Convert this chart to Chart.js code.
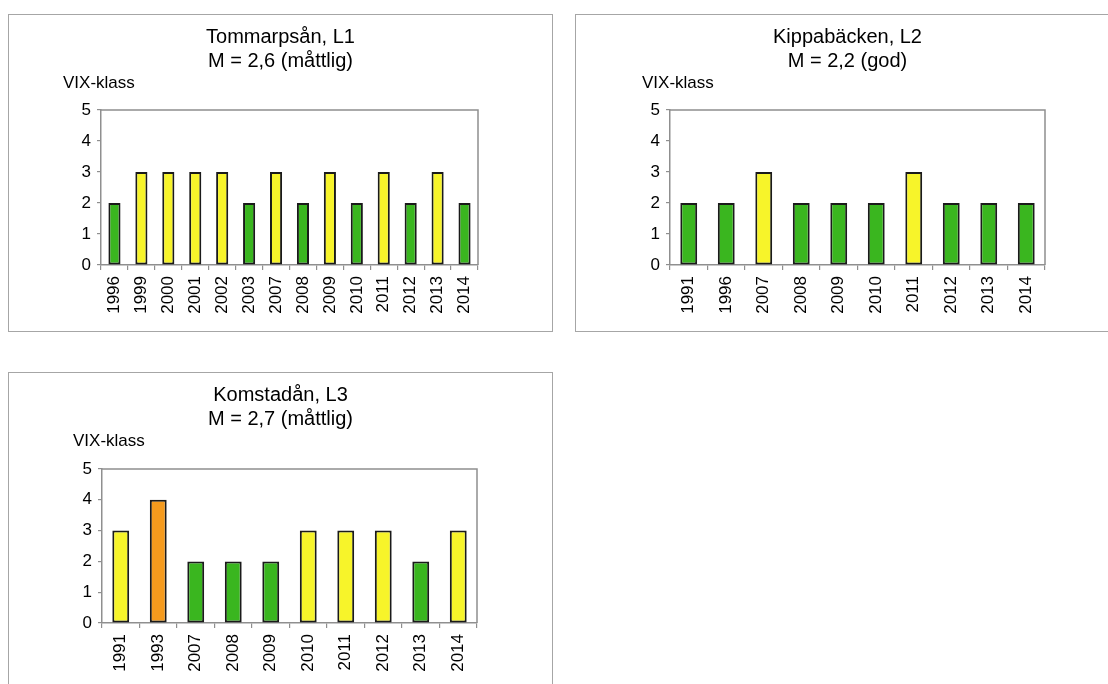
<!DOCTYPE html>
<html>
<head>
<meta charset="utf-8">
<script src="https://cdn.jsdelivr.net/npm/chart.js@4/dist/chart.umd.min.js"></script>
<style>
  html, body { margin:0; padding:0; background:#fff; }
  body { width:1108px; height:684px; position:relative; overflow:hidden; font-family:"Liberation Sans", Arial, sans-serif; color:#000; }
  .frame { position:absolute; width:545px; height:318px; box-sizing:border-box; border:1px solid #a6a6a6; }
  .frame canvas { position:absolute; left:0; top:0; }
  .title { position:absolute; font-size:20px; line-height:24px; text-align:center; white-space:nowrap; }
  .ylab { position:absolute; font-size:17px; line-height:17px; white-space:nowrap; }
</style>
</head>
<body>

<script>
// L1 Tommarpsån
const years1 = ['1996','1999','2000','2001','2002','2003','2007','2008','2009','2010','2011','2012','2013','2014'];
const vix1   = [2,3,3,3,3,2,3,2,3,2,3,2,3,2];
// L2 Kippabäcken
const years2 = ['1991','1996','2007','2008','2009','2010','2011','2012','2013','2014'];
const vix2   = [2,2,3,2,2,2,3,2,2,2];
// L3 Komstadån
const years3 = ['1991','1993','2007','2008','2009','2010','2011','2012','2013','2014'];
const vix3   = [3,4,2,2,2,3,3,3,2,3];

const yTicks = [0,1,2,3,4,5];

// färg per VIX-klass
const klassColor = {1:'#2f6fd6', 2:'#3ab61f', 3:'#f7f42a', 4:'#f49a1d', 5:'#e3261c'};
const axisGrey = '#8f8f8f';
const font = '"Liberation Sans", Arial, sans-serif';

// panelernas placering (sidkoordinater)
const panels = [
  {id:'c1', x:8,   y:14,  title:['Tommarpsån, L1','M = 2,6 (måttlig)'], ylabX:63,  plot:{l:101, r:478, t:110, b:265}, labels:years1, data:vix1},
  {id:'c2', x:575, y:14,  title:['Kippabäcken, L2','M = 2,2 (god)'],     ylabX:642, plot:{l:670, r:1045, t:110, b:265}, labels:years2, data:vix2},
  {id:'c3', x:8,   y:372, title:['Komstadån, L3','M = 2,7 (måttlig)'],   ylabX:73,  plot:{l:102, r:477, t:469, b:623}, labels:years3, data:vix3}
];

const W = 545, H = 318, Y_AXIS_W = 30, X_AXIS_H = 60;

// ram runt ritytan (topp + höger)
const plotBox = {
  id:'plotBox',
  afterDraw(chart){
    const a = chart.chartArea, ctx = chart.ctx;
    ctx.save();
    ctx.strokeStyle = axisGrey;
    ctx.lineWidth = 1.5;
    ctx.beginPath();
    ctx.moveTo(a.left, a.top);
    ctx.lineTo(a.right, a.top);
    ctx.lineTo(a.right, a.bottom);
    ctx.stroke();
    ctx.restore();
  }
};

function addText(cls, txt, left, top, width){
  const d = document.createElement('div');
  d.className = cls;
  d.style.left = left + 'px';
  d.style.top = top + 'px';
  if (width) d.style.width = width + 'px';
  d.innerHTML = txt;
  document.body.appendChild(d);
}

function drawPanel(p){
  const frame = document.createElement('div');
  frame.className = 'frame';
  frame.style.left = p.x + 'px';
  frame.style.top = p.y + 'px';
  const cv = document.createElement('canvas');
  cv.id = p.id; cv.width = W; cv.height = H;
  frame.appendChild(cv);
  document.body.appendChild(frame);

  addText('title', p.title.join('<br>'), p.x, p.y + 10, W);
  addText('ylab', 'VIX-klass', p.ylabX, p.y + 60);

  // canvas börjar innanför ramens 1px-kant
  const pad = {
    left: p.plot.l - p.x - 1 - Y_AXIS_W,
    right: p.x + 1 + W - p.plot.r,
    top: p.plot.t - p.y - 1,
    bottom: H - (p.plot.b - p.y - 1) - X_AXIS_H
  };

  new Chart(cv, {
    type:'bar',
    data:{
      labels:p.labels,
      datasets:[{
        data:p.data,
        backgroundColor:p.data.map(v=>klassColor[v]),
        borderColor:'#1a1a1a',
        borderWidth:2,
        borderSkipped:false,
        categoryPercentage:1,
        barPercentage:0.45
      }]
    },
    options:{
      responsive:false,
      animation:false,
      layout:{padding:pad},
      plugins:{legend:{display:false}, tooltip:{enabled:false}, title:{display:false}},
      scales:{
        x:{
          offset:true,
          grid:{offset:true, drawOnChartArea:false, drawTicks:true, tickLength:5, color:axisGrey, lineWidth:1.2},
          border:{display:true, color:axisGrey, width:1.5},
          ticks:{color:'#000', font:{family:font, size:17}, minRotation:90, maxRotation:90, padding:6, autoSkip:false},
          afterFit(s){ s.height = X_AXIS_H; }
        },
        y:{
          min:yTicks[0], max:yTicks[yTicks.length-1],
          afterBuildTicks(s){ s.ticks = yTicks.map(v=>({value:v})); },
          grid:{drawOnChartArea:false, drawTicks:true, tickLength:4, color:axisGrey, lineWidth:1.2},
          border:{display:true, color:axisGrey, width:1.5},
          ticks:{color:'#000', font:{family:font, size:17}, padding:6},
          afterFit(s){ s.width = Y_AXIS_W; }
        }
      }
    },
    plugins:[plotBox]
  });
}

panels.forEach(drawPanel);
</script>
</body>
</html>
